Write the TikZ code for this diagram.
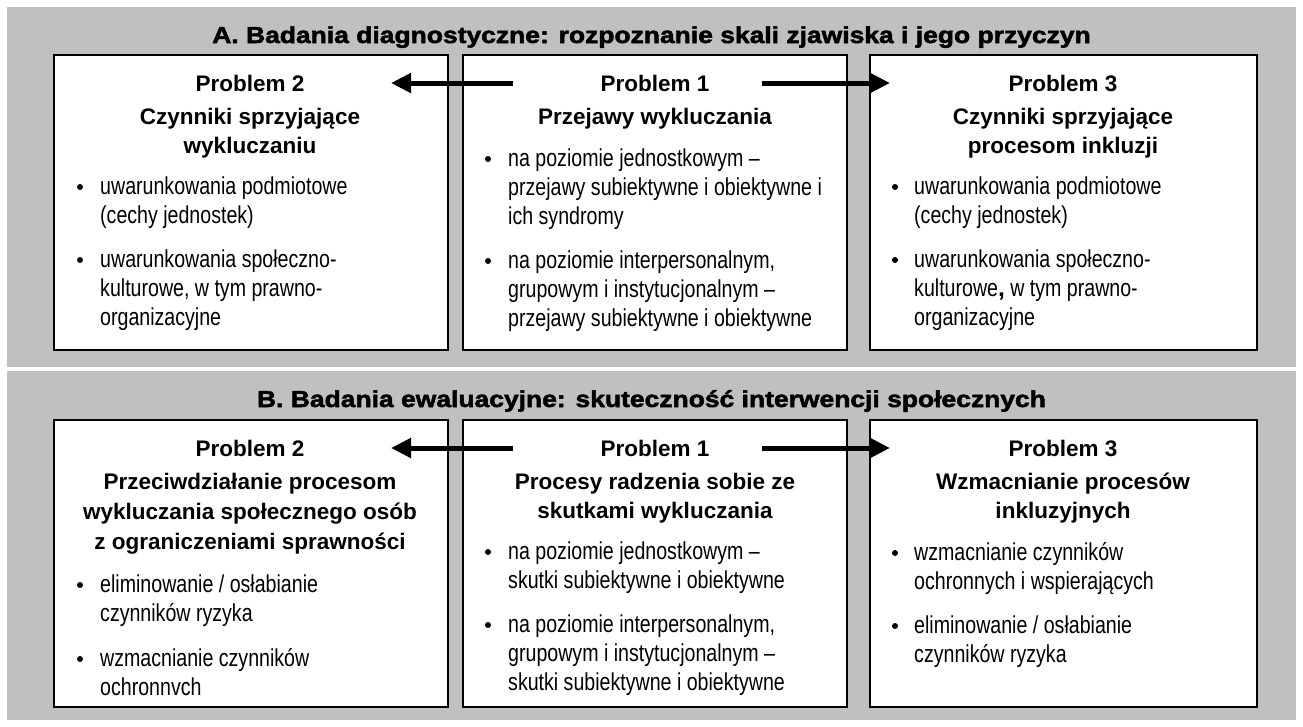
\documentclass[tikz,border=0pt]{standalone}
\usepackage{fontspec}
\setmainfont{Liberation Sans}
\newfontfamily\bodyfont{Liberation Sans}[FakeStretch=0.80]
\newfontfamily\headfont{Liberation Sans Bold}
\newfontfamily\titlefont{Liberation Sans Bold}[FakeStretch=1.15,FakeBold=2.2]
\usetikzlibrary{arrows.meta}
\definecolor{panelgray}{RGB}{192,192,192}
\tikzset{
  panel/.style={fill=panelgray,draw=none},
  probbox/.style={fill=white,draw=black,line width=1.8pt},
  titletxt/.style={anchor=base,inner sep=0pt,font=\titlefont\fontsize{23}{27}\selectfont},
  headtxt/.style={anchor=base,inner sep=0pt,font=\headfont\fontsize{22.5}{27}\selectfont},
  bodytxt/.style={anchor=base west,inner sep=0pt,font=\bodyfont\fontsize{24.5}{29}\selectfont},
  bulletdot/.style={circle,fill=black,inner sep=0pt,minimum size=6pt},
  bigarrow/.style={line width=5pt,-{Triangle[length=20pt,width=19pt]}}
}
\newcommand\hl[4]{\node[headtxt] (#1) at (#2,#3) {#4};}
\newcommand\bl[4]{\node[bodytxt] (#1) at (#2,#3) {#4};}
\newcommand\bdot[3]{\node[bulletdot] (#1) at (#2,#3-7) {};}
\begin{document}
\begin{tikzpicture}[x=1pt,y=-1pt]
\useasboundingbox (0,0) rectangle (1303,726);
% panels
\fill[panel] (7,7) rectangle (1296,367);
\fill[panel] (7,371) rectangle (1296,720);
\node[titletxt] (tA) at (651.5,43) {A. Badania diagnostyczne: rozpoznanie skali zjawiska i jego przyczyn};
\node[titletxt] (tB) at (651.5,407) {B. Badania ewaluacyjne: skuteczność interwencji społecznych};
% boxes row A
\draw[probbox] (54,55) rectangle (448,350);
\draw[probbox] (463,55) rectangle (847,350);
\draw[probbox] (870,55) rectangle (1257,350);
% boxes row B
\draw[probbox] (54,420) rectangle (448,707);
\draw[probbox] (463,420) rectangle (847,707);
\draw[probbox] (870,420) rectangle (1257,707);
% ---- Row A left
\hl{al1}{250}{91}{Problem 2}
\hl{al2}{250}{124}{Czynniki sprzyjające}
\hl{al3}{250}{153}{wykluczaniu}
\bdot{ald1}{80}{194}
\bl{alb1}{100}{194}{uwarunkowania podmiotowe}
\bl{alb2}{100}{223}{(cechy jednostek)}
\bdot{ald2}{80}{267}
\bl{alb3}{100}{267}{uwarunkowania społeczno-}
\bl{alb4}{100}{296}{kulturowe, w tym prawno-}
\bl{alb5}{100}{325}{organizacyjne}
% ---- Row A middle
\hl{am1}{655}{91}{Problem 1}
\hl{am2}{655}{124}{Przejawy wykluczania}
\bdot{amd1}{488}{166}
\bl{amb1}{508}{166}{na poziomie jednostkowym –}
\bl{amb2}{508}{195}{przejawy subiektywne i obiektywne i}
\bl{amb3}{508}{224}{ich syndromy}
\bdot{amd2}{488}{268}
\bl{amb4}{508}{268}{na poziomie interpersonalnym,}
\bl{amb5}{508}{297}{grupowym i instytucjonalnym –}
\bl{amb6}{508}{326}{przejawy subiektywne i obiektywne}
% ---- Row A right
\hl{ar1}{1063}{91}{Problem 3}
\hl{ar2}{1063}{124}{Czynniki sprzyjające}
\hl{ar3}{1063}{153}{procesom inkluzji}
\bdot{ard1}{895}{194}
\bl{arb1}{914}{194}{uwarunkowania podmiotowe}
\bl{arb2}{914}{223}{(cechy jednostek)}
\bdot{ard2}{895}{267}
\bl{arb3}{914}{267}{uwarunkowania społeczno-}
\bl{arb4}{914}{296}{kulturowe{\headfont ,} w tym prawno-}
\bl{arb5}{914}{325}{organizacyjne}
% ---- Row B left
\hl{bl1}{250}{456}{Problem 2}
\hl{bl2}{250}{489}{Przeciwdziałanie procesom}
\hl{bl3}{250}{519}{wykluczania społecznego osób}
\hl{bl4}{250}{549}{z ograniczeniami sprawności}
\bdot{bld1}{80}{592}
\bl{blb1}{100}{592}{eliminowanie / osłabianie}
\bl{blb2}{100}{621}{czynników ryzyka}
\bdot{bld2}{80}{666}
\bl{blb3}{100}{666}{wzmacnianie czynników}
\bl{blb4}{100}{695}{ochronnvch}
% ---- Row B middle
\hl{bm1}{655}{456}{Problem 1}
\hl{bm2}{655}{489}{Procesy radzenia sobie ze}
\hl{bm3}{655}{518}{skutkami wykluczania}
\bdot{bmd1}{488}{559}
\bl{bmb1}{508}{559}{na poziomie jednostkowym –}
\bl{bmb2}{508}{588}{skutki subiektywne i obiektywne}
\bdot{bmd2}{488}{632}
\bl{bmb3}{508}{632}{na poziomie interpersonalnym,}
\bl{bmb4}{508}{661}{grupowym i instytucjonalnym –}
\bl{bmb5}{508}{690}{skutki subiektywne i obiektywne}
% ---- Row B right
\hl{br1}{1063}{456}{Problem 3}
\hl{br2}{1063}{489}{Wzmacnianie procesów}
\hl{br3}{1063}{518}{inkluzyjnych}
\bdot{brd1}{895}{560}
\bl{brb1}{914}{560}{wzmacnianie czynników}
\bl{brb2}{914}{589}{ochronnych i wspierających}
\bdot{brd2}{895}{633}
\bl{brb3}{914}{633}{eliminowanie / osłabianie}
\bl{brb4}{914}{662}{czynników ryzyka}
% arrows
\coordinate (aLs) at (513,83);
\coordinate (aLe) at (391,83);
\coordinate (aRs) at (762,83);
\coordinate (aRe) at (890,83);
\draw[bigarrow] (aLs) -- (aLe);
\draw[bigarrow] (aRs) -- (aRe);
\coordinate (bLs) at (513,448);
\coordinate (bLe) at (391,448);
\coordinate (bRs) at (762,448);
\coordinate (bRe) at (890,448);
\draw[bigarrow] (bLs) -- (bLe);
\draw[bigarrow] (bRs) -- (bRe);
\end{tikzpicture}
\end{document}
